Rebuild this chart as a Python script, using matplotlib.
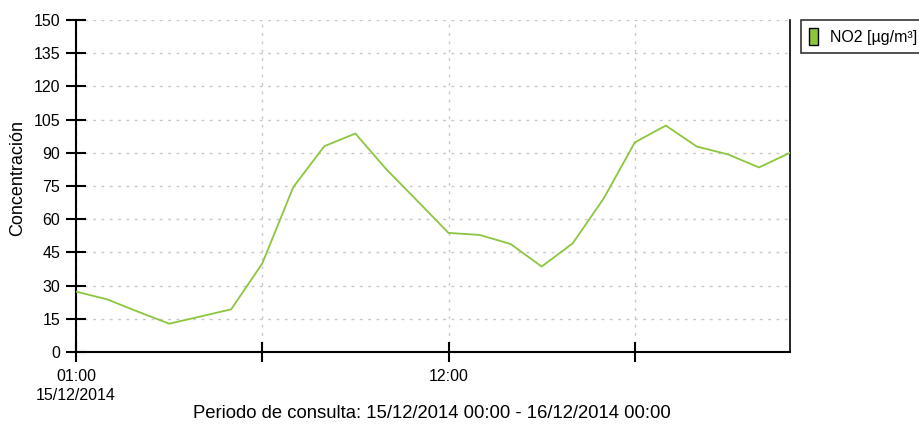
import matplotlib
matplotlib.use("Agg")
import matplotlib.pyplot as plt
import matplotlib.patches as mpatches

plt.rcParams['font.family'] = ['Liberation Sans', 'DejaVu Sans']

# NO2 horario (indice de hora desde 01:00)
horas = list(range(24))
no2 = [27.3, 23.8, 18.2, 12.8, 16.0, 19.3, 40.0, 74.5, 93.0, 98.7,
       82.5, 68.2, 53.8, 52.9, 48.8, 38.6, 49.1, 69.4, 94.7, 102.3,
       92.8, 89.3, 83.4, 90.0]
pos_ticks = [0, 6, 12, 18]
etiquetas = ['01:00\n15/12/2014', '', '12:00', '']
niveles = list(range(0, 151, 15))

VERDE = '#8cc63e'

fig = plt.figure(figsize=(9.2, 4.25), dpi=100)
ax = fig.add_axes([76 / 920, 1 - 352 / 425, (790 - 76) / 920, (352 - 20) / 425])

ax.plot(horas, no2, color=VERDE, lw=1.3, solid_joinstyle='round', zorder=3)

ax.set_xlim(0, 23)
ax.set_ylim(0, 150)
ax.set_yticks(niveles)
ax.set_xticks(pos_ticks)
ax.set_xticklabels(etiquetas, ha='center', linespacing=1.3)

ax.grid(True, color='#c8c8c8', linestyle=(0, (2, 4)), lw=1)
ax.set_axisbelow(True)

ax.spines['top'].set_visible(False)
for s in ['left', 'bottom', 'right']:
    ax.spines[s].set_color('black')
ax.spines['left'].set_linewidth(1.5)
ax.spines['bottom'].set_linewidth(1.5)
ax.spines['right'].set_linewidth(1.2)

ax.tick_params(axis='y', direction='inout', length=15, width=1.5, labelsize=11.5, pad=4)
ax.tick_params(axis='x', direction='inout', length=15, width=1.5, labelsize=11.5, pad=5)

ax.set_ylabel('Concentración', fontsize=13)
ax.yaxis.set_label_coords((17.5 - 76) / 714, (352 - 177.5) / 332)
ax.yaxis.label.set_va('center')
ax.set_xlabel('Periodo de consulta: 15/12/2014 00:00 - 16/12/2014 00:00', fontsize=13.3)
ax.xaxis.set_label_coords((432 - 76) / 714, (352 - 414) / 332)
ax.xaxis.label.set_va('center')

parche = mpatches.Patch(facecolor=VERDE, edgecolor='black', label='NO2 [µg/m³]')
leg = fig.legend(handles=[parche], loc='upper left', bbox_to_anchor=(801 / 920, 1 - 20 / 425),
                 frameon=True, fancybox=False, fontsize=11.5, handlelength=0.55, handleheight=1.25,
                 handletextpad=0.75, borderpad=0.5, borderaxespad=0)
leg.get_frame().set_edgecolor('black')
leg.get_frame().set_linewidth(1.2)

fig.savefig('out.png', dpi=100)
